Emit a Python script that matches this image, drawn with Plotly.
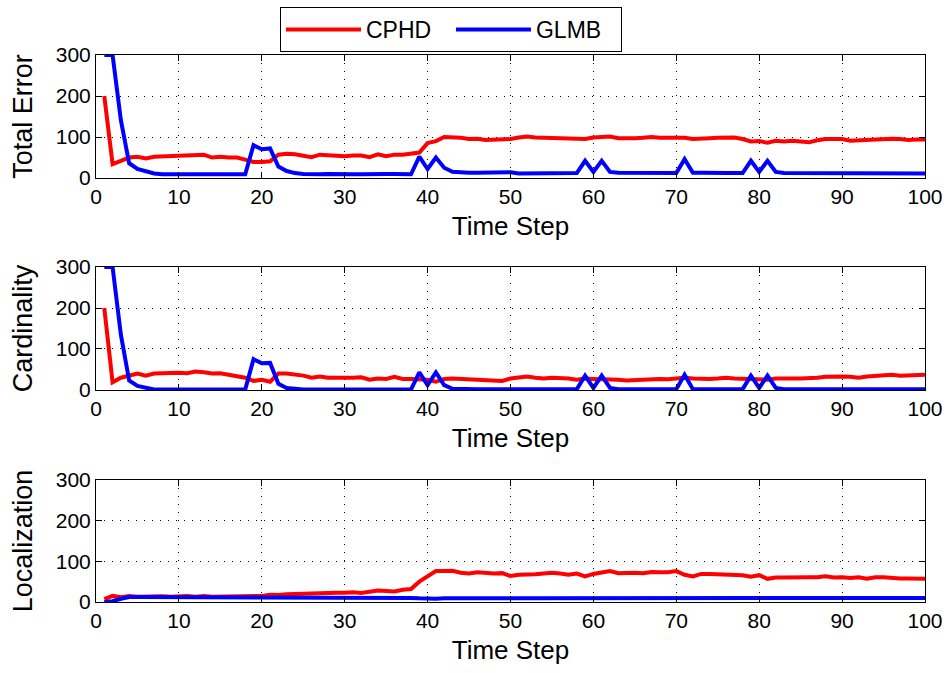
import plotly.graph_objects as go
from plotly.subplots import make_subplots

time_steps = list(range(1, 101))

total_cphd = [200, 34, 42, 50, 52, 48, 52, 53, 53, 54,
              54, 55, 57, 50, 52, 50, 50, 45, 39, 39,
              41, 57, 59, 58, 55, 51, 57, 55, 54, 53,
              55, 55, 51, 58, 53, 57, 57, 59, 62, 85,
              90, 100, 100, 98, 95, 96, 93, 94, 93, 95,
              99, 101, 99, 98, 99, 98, 96, 95, 95, 99,
              100, 101, 97, 96, 97, 98, 100, 98, 98, 100,
              98, 95, 97, 97, 98, 98, 99, 95, 89, 90,
              86, 91, 89, 91, 90, 87, 92, 95, 95, 95,
              91, 92, 92, 94, 96, 96, 95, 93, 94, 94]
total_glmb = [300, 300, 141, 36, 22, 17, 11, 9, 9, 9,
              9, 9, 10, 10, 10, 10, 9, 9, 80, 70,
              72, 28, 17, 12, 10, 9, 9, 10, 9, 9,
              9, 9, 10, 9, 10, 10, 9, 9, 52, 22,
              50, 25, 15, 13, 13, 13, 13, 12, 12, 14,
              11, 11, 11, 11, 11, 11, 12, 12, 42, 15,
              42, 15, 13, 13, 12, 12, 12, 12, 12, 12,
              46, 13, 13, 12, 12, 12, 12, 12, 42, 15,
              42, 15, 12, 12, 12, 11, 11, 11, 11, 12,
              11, 11, 11, 11, 11, 11, 11, 11, 11, 11]

card_cphd = [200, 19, 30, 36, 40, 35, 40, 41, 42, 42,
             41, 45, 43, 40, 41, 38, 35, 30, 22, 25,
             20, 40, 40, 38, 35, 30, 33, 30, 30, 28,
             30, 31, 25, 28, 27, 32, 27, 27, 25, 25,
             20, 27, 28, 27, 27, 25, 25, 24, 22, 28,
             30, 33, 30, 28, 30, 30, 28, 25, 28, 27,
             27, 25, 25, 23, 24, 27, 27, 27, 26, 27,
             30, 28, 27, 27, 28, 30, 28, 27, 28, 27,
             25, 28, 27, 28, 28, 28, 30, 32, 33, 33,
             32, 30, 33, 35, 35, 37, 35, 35, 37, 37]
card_glmb = [300, 300, 135, 23, 10, 6, 1, 1, 1, 1,
             1, 1, 2, 2, 2, 2, 1, 1, 75, 65,
             66, 15, 5, 2, 1, 1, 1, 1, 1, 1,
             1, 1, 1, 1, 1, 2, 1, 1, 43, 12,
             43, 12, 3, 2, 2, 2, 2, 2, 2, 2,
             2, 2, 2, 2, 2, 2, 2, 2, 35, 5,
             35, 5, 2, 2, 2, 2, 2, 2, 2, 2,
             37, 2, 2, 2, 2, 2, 2, 2, 35, 5,
             35, 5, 2, 2, 2, 2, 2, 2, 2, 2,
             2, 2, 2, 2, 2, 2, 2, 2, 2, 2]

loc_cphd = [7, 15, 12, 15, 13, 14, 14, 14, 13, 15,
            15, 13, 15, 13, 13, 13, 15, 15, 15, 15,
            18, 17, 19, 20, 19, 20, 23, 22, 23, 23,
            24, 22, 25, 28, 27, 26, 30, 32, 50, 63,
            76, 76, 77, 72, 70, 73, 71, 70, 71, 64,
            67, 67, 68, 70, 72, 70, 67, 70, 63, 69,
            73, 76, 71, 72, 72, 71, 74, 73, 73, 76,
            67, 63, 69, 69, 68, 69, 66, 66, 62, 66,
            57, 60, 60, 61, 62, 61, 61, 63, 60, 61,
            59, 61, 57, 61, 61, 59, 58, 58, 57, 57]
loc_glmb = [0, 2, 8, 12, 12, 12, 12, 11, 11, 11,
            11, 11, 11, 11, 11, 11, 11, 10, 10, 10,
            10, 10, 10, 10, 10, 10, 10, 10, 10, 10,
            10, 10, 10, 10, 10, 10, 10, 10, 9, 8,
            8, 9, 9, 9, 9, 9, 9, 9, 9, 9,
            9, 9, 9, 9, 9, 9, 9, 9, 9, 9,
            10, 10, 10, 10, 10, 10, 10, 10, 10, 10,
            10, 10, 10, 10, 10, 10, 10, 10, 9, 9,
            10, 10, 10, 10, 10, 10, 10, 10, 10, 10,
            10, 10, 10, 10, 10, 10, 10, 10, 10, 10]

panel_titles = ["Total Error", "Cardinality", "Localization"]
x_title = "Time Step"
series_names = ["CPHD", "GLMB"]
series_colors = ["#ff0000", "#0000ff"]
panels = [(total_cphd, total_glmb), (card_cphd, card_glmb), (loc_cphd, loc_glmb)]

fig = make_subplots(rows=3, cols=1)

for i, (cphd, glmb) in enumerate(panels):
    for name, vals, col in zip(series_names, (cphd, glmb), series_colors):
        fig.add_trace(go.Scatter(
            x=time_steps, y=vals, mode="lines", name=name,
            line=dict(color=col, width=4),
            showlegend=(i == 0), cliponaxis=True,
        ), row=i + 1, col=1)

font_family = "Liberation Sans, Arial, Helvetica, sans-serif"
domains = [[0.7751, 1.0], [0.3876, 0.6124], [0.0, 0.2230]]

for i in range(3):
    fig.update_xaxes(
        row=i + 1, col=1,
        range=[0, 100], tickmode="array", tickvals=list(range(0, 101, 10)),
        showline=True, linecolor="black", linewidth=1, mirror="ticks",
        ticks="inside", ticklen=6, tickcolor="black",
        showgrid=True, gridcolor="black", gridwidth=1, griddash="1px,7px",
        zeroline=False,
        tickfont=dict(size=21, color="black", family=font_family),
        title=dict(text=x_title, font=dict(size=26, color="black", family=font_family), standoff=9),
        automargin=False,
    )
    fig.update_yaxes(
        row=i + 1, col=1,
        domain=domains[i],
        range=[0, 300], tickmode="array", tickvals=[0, 100, 200, 300],
        showline=True, linecolor="black", linewidth=1, mirror="ticks",
        ticks="inside", ticklen=6, tickcolor="black",
        showgrid=True, gridcolor="black", gridwidth=1, griddash="1px,7px",
        zeroline=False,
        tickfont=dict(size=21, color="black", family=font_family),
        title=dict(text=panel_titles[i], font=dict(size=27, color="black", family=font_family), standoff=15),
        automargin=False,
    )

fig.update_layout(
    width=950, height=673,
    margin=dict(l=96, r=25, t=55, b=71, autoexpand=False),
    paper_bgcolor="white", plot_bgcolor="white",
    font=dict(family=font_family, color="black"),
    legend=dict(
        orientation="h", x=0.4282, xanchor="center", y=1.0878, yanchor="top",
        bordercolor="black", borderwidth=1, bgcolor="white",
        font=dict(size=23, color="black", family=font_family),
        entrywidth=80, itemwidth=75,
    ),
)

fig.write_html("out.html")
